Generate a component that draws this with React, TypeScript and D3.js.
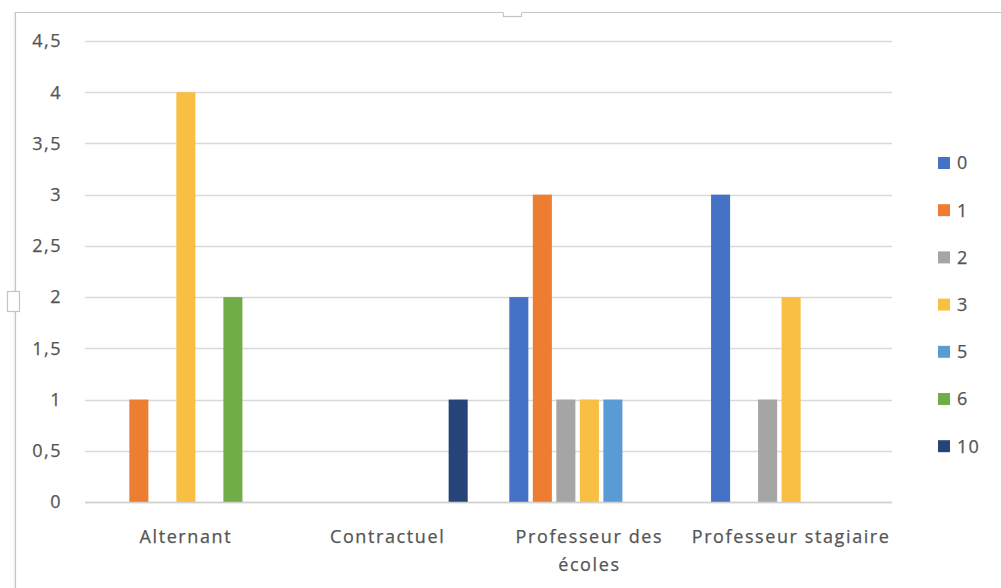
import { useEffect, useRef } from 'react'
import * as d3 from 'd3'

const categories = ['Alternant', 'Contractuel', 'Professeur des écoles', 'Professeur stagiaire']
const seriesNames = ['0', '1', '2', '3', '5', '6', '10']
const seriesColors = ['#4472C4', '#ED7D31', '#A5A5A5', '#F8BF42', '#5B9BD5', '#70AD47', '#264478']

// one value per category, in the order of `categories`
const s0 = [0, 0, 2, 3]
const s1 = [1, 0, 3, 0]
const s2 = [0, 0, 1, 1]
const s3 = [4, 0, 1, 2]
const s5 = [0, 0, 1, 0]
const s6 = [2, 0, 0, 0]
const s10 = [0, 1, 0, 0]
const seriesValues = [s0, s1, s2, s3, s5, s6, s10]

const yTicks = [0, 0.5, 1, 1.5, 2, 2.5, 3, 3.5, 4, 4.5]

const W = 1001
const H = 588
const FONT = '"Open Sans", "DejaVu Sans", sans-serif'
const TEXT = '#555555'

export default function App() {
  const svgRef = useRef<SVGSVGElement>(null)

  useEffect(() => {
    if (!svgRef.current) return
    const svg = d3.select(svgRef.current)
    svg.selectAll('*').remove()

    const margin = { top: 41, left: 85, right: 109, bottom: 86 }

    const x0 = d3.scaleBand<string>()
      .domain(categories)
      .range([margin.left, W - margin.right])
      .padding(0)

    const x1 = d3.scaleBand<string>()
      .domain(seriesNames)
      .range([0, x0.bandwidth()])
      .paddingInner(0.19)
      .paddingOuter(0.885)

    const y = d3.scaleLinear()
      .domain([0, 4.5])
      .range([H - margin.bottom, margin.top])

    const fmt = (v: number) => String(v).replace('.', ',')

    // chart frame (Excel selection look)
    const frame = svg.append('g')
    frame.append('path')
      .attr('d', `M14,${H} V11 H${W}`)
      .attr('fill', 'none')
      .attr('stroke', '#ececec')
      .attr('stroke-width', 1)
    frame.append('path')
      .attr('d', `M15.5,${H} V12.5 H${W}`)
      .attr('fill', 'none')
      .attr('stroke', '#c4c4c4')
      .attr('stroke-width', 1.2)
    frame.append('rect')
      .attr('x', 503.5).attr('y', 8.5).attr('width', 18).attr('height', 8)
      .attr('fill', 'white').attr('stroke', '#c4c4c4').attr('stroke-width', 1.2)
    frame.append('rect')
      .attr('x', 0).attr('y', 0).attr('width', W).attr('height', 12)
      .attr('fill', 'white')
    frame.append('path')
      .attr('d', `M503.5,12.5 H521.5`)
      .attr('stroke', 'white').attr('stroke-width', 1.4)
    frame.append('rect')
      .attr('x', 7.5).attr('y', 291.5).attr('width', 12).attr('height', 20)
      .attr('fill', 'white').attr('stroke', '#c4c4c4').attr('stroke-width', 1.2)

    // gridlines
    const [gx0, gx1] = x0.range()
    svg.append('g')
      .selectAll('line')
      .data(yTicks)
      .join('line')
      .attr('x1', gx0)
      .attr('x2', gx1)
      .attr('y1', d => Math.round(y(d)) + 0.5)
      .attr('y2', d => Math.round(y(d)) + 0.5)
      .attr('stroke', '#d9d9d9')
      .attr('stroke-width', 1.3)

    const textStyle = (sel: d3.Selection<any, any, any, any>, spacing: number) =>
      sel.attr('fill', TEXT)
        .attr('stroke', TEXT)
        .attr('stroke-width', 0.25)
        .style('font-family', FONT)
        .style('font-size', '18px')
        .style('letter-spacing', `${spacing}px`)

    // y tick labels
    svg.append('g')
      .selectAll('text')
      .data(yTicks)
      .join('text')
      .attr('x', 62)
      .attr('y', d => y(d))
      .attr('dy', '0.35em')
      .attr('text-anchor', 'end')
      .call(textStyle, 1.5)
      .text(d => fmt(d))

    // bars
    const groups = svg.append('g')
      .selectAll('g')
      .data(categories)
      .join('g')
      .attr('transform', d => `translate(${x0(d)},0)`)

    groups.selectAll('rect')
      .data((_, ci) => seriesNames.map((name, si) => ({ name, si, value: seriesValues[si][ci] })))
      .join('rect')
      .filter(d => d.value > 0)
      .attr('x', d => x1(d.name)!)
      .attr('width', x1.bandwidth())
      .attr('y', d => y(d.value))
      .attr('height', d => y(0) - y(d.value))
      .attr('fill', d => seriesColors[d.si])

    // category labels with wrapping
    const labels = svg.append('g')
      .selectAll('text')
      .data(categories)
      .join('text')
      .attr('x', d => x0(d)! + x0.bandwidth() / 2)
      .attr('y', 543)
      .attr('text-anchor', 'middle')
      .call(textStyle, 1.6)

    labels.each(function (d) {
      const t = d3.select(this)
      const words = d.split(' ')
      const lines: string[] = []
      let cur: string[] = []
      const probe = t.append('tspan')
      for (const w of words) {
        const test = [...cur, w].join(' ')
        probe.text(test)
        if ((probe.node() as SVGTSpanElement).getComputedTextLength() > x0.bandwidth() && cur.length) {
          lines.push(cur.join(' '))
          cur = [w]
        } else {
          cur.push(w)
        }
      }
      lines.push(cur.join(' '))
      probe.remove()
      lines.forEach((line, i) => {
        t.append('tspan')
          .attr('x', x0(d)! + x0.bandwidth() / 2)
          .attr('dy', i === 0 ? 0 : 28)
          .text(line)
      })
    })

    // baseline axis
    svg.append('line')
      .attr('x1', gx0)
      .attr('x2', gx1)
      .attr('y1', Math.round(y(0)) + 0.5)
      .attr('y2', Math.round(y(0)) + 0.5)
      .attr('stroke', '#d0d0d0')
      .attr('stroke-width', 1.3)

    // legend
    const legend = svg.append('g')
      .selectAll('g')
      .data(seriesNames)
      .join('g')
      .attr('transform', (_, i) => `translate(938,${163 + i * 47.2})`)

    legend.append('rect')
      .attr('x', 0)
      .attr('y', -6)
      .attr('width', 12)
      .attr('height', 12)
      .attr('fill', (_, i) => seriesColors[i])

    legend.append('text')
      .attr('x', 19)
      .attr('y', 0)
      .attr('dy', '0.35em')
      .call(textStyle, 1.2)
      .text(d => d)
  }, [])

  return (
    <div style={{ position: 'absolute', left: 0, top: 0, width: W, height: H, background: 'white' }}>
      <svg ref={svgRef} width={W} height={H} style={{ display: 'block' }} />
    </div>
  )
}
